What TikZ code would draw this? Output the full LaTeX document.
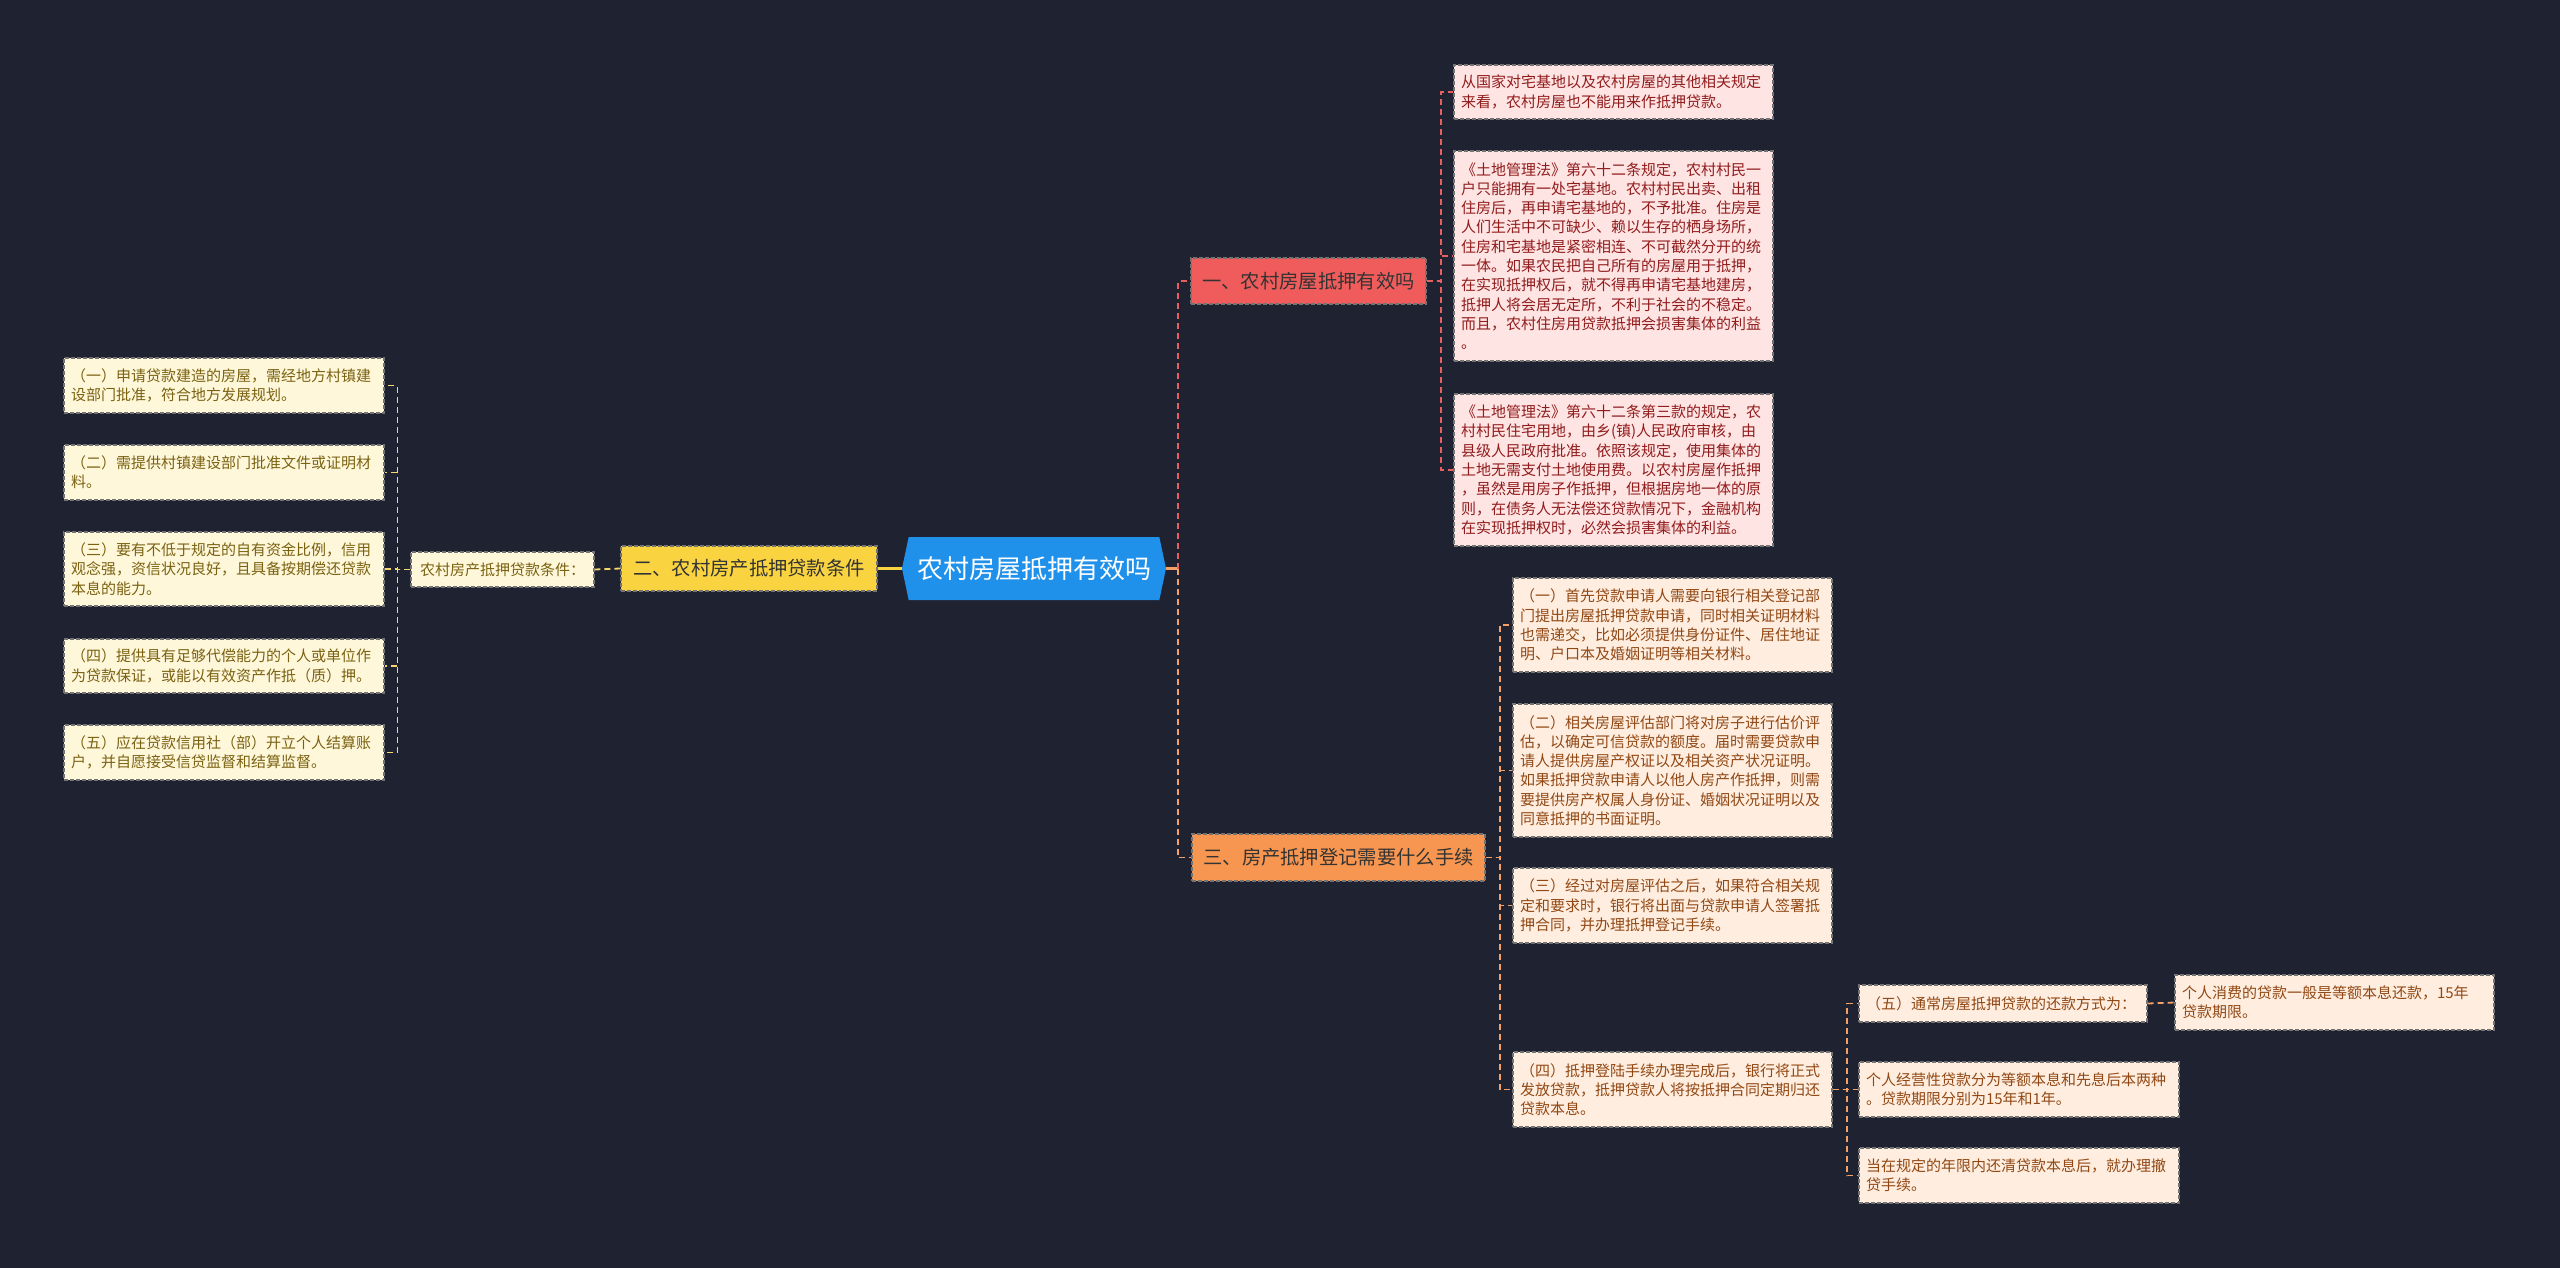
\documentclass[tikz,border=0pt]{standalone}
\usepackage{fontspec}
\setmainfont{Noto Sans CJK SC}
\usetikzlibrary{shapes.symbols}
\definecolor{bg}{RGB}{31,34,48}
\definecolor{hexblue}{RGB}{32,145,235}
\definecolor{yfill}{RGB}{250,212,64}
\definecolor{rfill}{RGB}{240,92,92}
\definecolor{ofill}{RGB}{247,150,80}
\definecolor{yleaffill}{RGB}{255,247,218}
\definecolor{rleaffill}{RGB}{255,228,228}
\definecolor{oleaffill}{RGB}{255,238,224}
\definecolor{ytext}{RGB}{122,98,18}
\definecolor{rtext}{RGB}{145,28,28}
\definecolor{otext}{RGB}{145,72,20}
\definecolor{yline}{RGB}{245,215,110}
\definecolor{rline}{RGB}{232,95,95}
\definecolor{oline}{RGB}{245,160,100}
\tikzset{
  leafbase/.style={draw=black!55, line width=1.2pt, dash pattern=on 4pt off 2pt,
    align=left, inner xsep=6pt, inner ysep=3pt,
    font=\fontsize{15}{19.3}\selectfont},
  yleaf/.style={leafbase, fill=yleaffill, text=ytext},
  rleaf/.style={leafbase, fill=rleaffill, text=rtext},
  oleaf/.style={leafbase, fill=oleaffill, text=otext},
  branchbase/.style={draw=black!55, line width=1.2pt, dash pattern=on 4pt off 2pt,
    align=center, inner sep=4pt, text=black!80, font=\fontsize{19.3}{23}\selectfont},
  ybranch/.style={branchbase, fill=yfill},
  rbranch/.style={branchbase, fill=rfill},
  obranch/.style={branchbase, fill=ofill},
  hexa/.style={signal, signal to=west and east, signal pointer angle=156,
    fill=hexblue, text=white, minimum width=264pt, minimum height=63pt,
    inner sep=2pt, font=\fontsize{26}{30}\selectfont},
  conn/.style={line width=1.8pt, dash pattern=on 6pt off 4pt},
  yconn/.style={conn, draw=yline},
  rconn/.style={conn, draw=rline},
  oconn/.style={conn, draw=oline},
}
\begin{document}
\begin{tikzpicture}[x=1pt,y=-1pt]
\fill[bg] (0,0) rectangle (2560,1268);
\useasboundingbox (0,0) rectangle (2560,1268);

% centre and branches
\node[hexa] (hex) at (1034,568.5) {农村房屋抵押有效吗};
\node[ybranch, minimum width=256pt, minimum height=45pt] (b2) at (749,568.5) {二、农村房产抵押贷款条件};
\node[yleaf, align=center, minimum width=183pt, minimum height=35pt] (cond) at (502.5,569.5) {农村房产抵押贷款条件：};
\node[rbranch, minimum width=235pt, minimum height=46pt] (b1) at (1308.5,281) {一、农村房屋抵押有效吗};
\node[obranch, minimum width=293pt, minimum height=47pt] (b3) at (1338.5,857.5) {三、房产抵押登记需要什么手续};

% left leaves
\node[yleaf, minimum width=320pt, text width=306pt, minimum height=55pt] (a1) at (224,385.5)
 {（一）申请贷款建造的房屋，需经地方村镇建\\设部门批准，符合地方发展规划。};
\node[yleaf, minimum width=320pt, text width=306pt, minimum height=55pt] (a2) at (224,472.5)
 {（二）需提供村镇建设部门批准文件或证明材\\料。};
\node[yleaf, minimum width=320pt, text width=306pt, minimum height=74pt] (a3) at (224,569)
 {（三）要有不低于规定的自有资金比例，信用\\观念强，资信状况良好，且具备按期偿还贷款\\本息的能力。};
\node[yleaf, minimum width=320pt, text width=306pt, minimum height=54pt] (a4) at (224,666)
 {（四）提供具有足够代偿能力的个人或单位作\\为贷款保证，或能以有效资产作抵（质）押。};
\node[yleaf, minimum width=320pt, text width=306pt, minimum height=55pt] (a5) at (224,752.5)
 {（五）应在贷款信用社（部）开立个人结算账\\户，并自愿接受信贷监督和结算监督。};

% red leaves
\node[rleaf, minimum width=319pt, text width=305pt, minimum height=54pt] (r1) at (1613.5,92)
 {从国家对宅基地以及农村房屋的其他相关规定\\来看，农村房屋也不能用来作抵押贷款。};
\node[rleaf, minimum width=319pt, text width=305pt, minimum height=210pt] (r2) at (1613.5,256)
 {《土地管理法》第六十二条规定，农村村民一\\户只能拥有一处宅基地。农村村民出卖、出租\\住房后，再申请宅基地的，不予批准。住房是\\人们生活中不可缺少、赖以生存的栖身场所，\\住房和宅基地是紧密相连、不可截然分开的统\\一体。如果农民把自己所有的房屋用于抵押，\\在实现抵押权后，就不得再申请宅基地建房，\\抵押人将会居无定所，不利于社会的不稳定。\\而且，农村住房用贷款抵押会损害集体的利益\\。};
\node[rleaf, minimum width=319pt, text width=305pt, minimum height=152pt] (r3) at (1613.5,470)
 {《土地管理法》第六十二条第三款的规定，农\\村村民住宅用地，由乡(镇)人民政府审核，由\\县级人民政府批准。依照该规定，使用集体的\\土地无需支付土地使用费。以农村房屋作抵押\\，虽然是用房子作抵押，但根据房地一体的原\\则，在债务人无法偿还贷款情况下，金融机构\\在实现抵押权时，必然会损害集体的利益。};

% orange leaves
\node[oleaf, minimum width=319pt, text width=305pt, minimum height=94pt] (m1) at (1672.5,625)
 {（一）首先贷款申请人需要向银行相关登记部\\门提出房屋抵押贷款申请，同时相关证明材料\\也需递交，比如必须提供身份证件、居住地证\\明、户口本及婚姻证明等相关材料。};
\node[oleaf, minimum width=319pt, text width=305pt, minimum height=133pt] (m2) at (1672.5,770.5)
 {（二）相关房屋评估部门将对房子进行估价评\\估，以确定可信贷款的额度。届时需要贷款申\\请人提供房屋产权证以及相关资产状况证明。\\如果抵押贷款申请人以他人房产作抵押，则需\\要提供房产权属人身份证、婚姻状况证明以及\\同意抵押的书面证明。};
\node[oleaf, minimum width=319pt, text width=305pt, minimum height=75pt] (m3) at (1672.5,905.5)
 {（三）经过对房屋评估之后，如果符合相关规\\定和要求时，银行将出面与贷款申请人签署抵\\押合同，并办理抵押登记手续。};
\node[oleaf, minimum width=319pt, text width=305pt, minimum height=75pt] (m4) at (1672.5,1089.5)
 {（四）抵押登陆手续办理完成后，银行将正式\\发放贷款，抵押贷款人将按抵押合同定期归还\\贷款本息。};

\node[oleaf, minimum width=288pt, text width=274pt, minimum height=37pt] (n1) at (2003,1003.5)
 {（五）通常房屋抵押贷款的还款方式为：};
\node[oleaf, minimum width=320pt, text width=306pt, minimum height=55pt] (n2) at (2019,1089.5)
 {个人经营性贷款分为等额本息和先息后本两种\\。贷款期限分别为15年和1年。};
\node[oleaf, minimum width=320pt, text width=306pt, minimum height=55pt] (n3) at (2019,1175.5)
 {当在规定的年限内还清贷款本息后，就办理撤\\贷手续。};
\node[oleaf, minimum width=319pt, text width=305pt, minimum height=55pt] (n1c) at (2334.5,1002.5)
 {个人消费的贷款一般是等额本息还款，15年\\贷款期限。};

% connectors: left
\draw[line width=3pt, draw=yfill] (b2.east) -- (hex.west);
\draw[yconn] (b2.west) -- (cond.east);
\foreach \n in {a1,a2,a3,a4,a5}{
  \draw[yconn] (cond.west) -- ++(-13,0) |- (\n.east);
}
% connectors: right
\draw[line width=2.5pt, draw=oline] (hex.east) -- ++(12,0) coordinate (jr);
\draw[rconn] (jr) |- (b1.west);
\draw[oconn] (jr) |- (b3.west);
\foreach \n in {r1,r2,r3}{
  \draw[rconn] (b1.east) -- ++(14,0) |- (\n.west);
}
\foreach \n in {m1,m2,m3,m4}{
  \draw[oconn] (b3.east) -- ++(14,0) |- (\n.west);
}
\foreach \n in {n1,n2,n3}{
  \draw[oconn] (m4.east) -- ++(14,0) |- (\n.west);
}
\draw[oconn] (n1.east) -- (n1c.west);
\end{tikzpicture}
\end{document}
